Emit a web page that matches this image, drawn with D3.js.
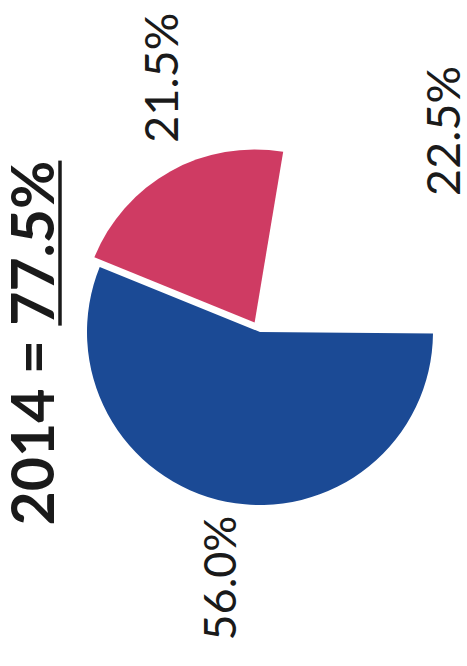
<!DOCTYPE html>
<html>
<head>
<meta charset="utf-8">
<script src="https://cdn.jsdelivr.net/npm/d3@7/dist/d3.min.js"></script>
<style>
  html, body { margin: 0; padding: 0; background: #fff; }
  svg { display: block; }
  text { font-family: Lato, "Open Sans", sans-serif; fill: #1a1a1a; }
</style>
</head>
<body>
<svg id="chart" width="467" height="666"></svg>
<script>
// ---- data ----
const categories = ["Segment A", "Segment B", "Remainder"];
const values = [56.0, 21.5, 22.5];
const valueLabels = ["56.0%", "21.5%", "22.5%"];
const titleYear = "2014 = ";
const titleValue = "77.5%";

// ---- styles / layout ----
const colors = ["#1b4a95", "#cf3b63", "none"];
const explode = [0, 11, 0];
const labelNudge = [[10, -4], [31, -22], [-12, -37]];
const labelSize = ["45px", "47px", "47px"];
const W = 467, H = 666;
const cx = 260, cy = 332, R = 173, labelR = 255;

const svg = d3.select("#chart");
const g = svg.append("g").attr("transform", `translate(${cx},${cy})`);

const pie = d3.pie().sort(null).value(d => d)
  .startAngle(90.5 * Math.PI / 180)
  .endAngle(450.5 * Math.PI / 180);
const arcs = pie(values);
const arc = d3.arc().innerRadius(0).outerRadius(R);
const labelArc = d3.arc().innerRadius(labelR).outerRadius(labelR);

g.selectAll("path.slice").data(arcs).join("path")
  .attr("class", "slice")
  .attr("fill", (d, i) => colors[i])
  .attr("transform", (d, i) => {
    const a = (d.startAngle + d.endAngle) / 2;
    return `translate(${explode[i] * Math.sin(a)},${-explode[i] * Math.cos(a)})`;
  })
  .attr("d", arc);

// labels (rotated -90)
g.selectAll("text.lab").data(arcs).join("text")
  .attr("class", "lab")
  .attr("transform", (d, i) => {
    const a = (d.startAngle + d.endAngle) / 2;
    const c = labelArc.centroid(d);
    const ex = explode[i] * Math.sin(a), ey = -explode[i] * Math.cos(a);
    return `translate(${c[0] + ex + labelNudge[i][0]},${c[1] + ey + labelNudge[i][1]}) rotate(-90)`;
  })
  .attr("text-anchor", "middle")
  .attr("dy", "0.36em")
  .style("font-size", (d, i) => labelSize[i])
  .text((d, i) => valueLabels[i]);

// title (rotated -90)
const tg = svg.append("g").attr("transform", "translate(33,343) rotate(-90)");
const tt = tg.append("text")
  .attr("text-anchor", "middle")
  .attr("dy", "0.36em")
  .style("font-size", "59px")
  .style("font-weight", "bold");
tt.append("tspan").text(titleYear);
tt.append("tspan").text(titleValue);
const n = tt.node();
const startIdx = titleYear.length;
const endIdx = titleYear.length + titleValue.length - 1;
const x0 = n.getStartPositionOfChar(startIdx).x;
const x1 = n.getEndPositionOfChar(endIdx).x;
tg.append("line")
  .attr("x1", x0).attr("x2", x1)
  .attr("y1", 27).attr("y2", 27)
  .attr("stroke", "#1a1a1a").attr("stroke-width", 3.5);
</script>
</body>
</html>
